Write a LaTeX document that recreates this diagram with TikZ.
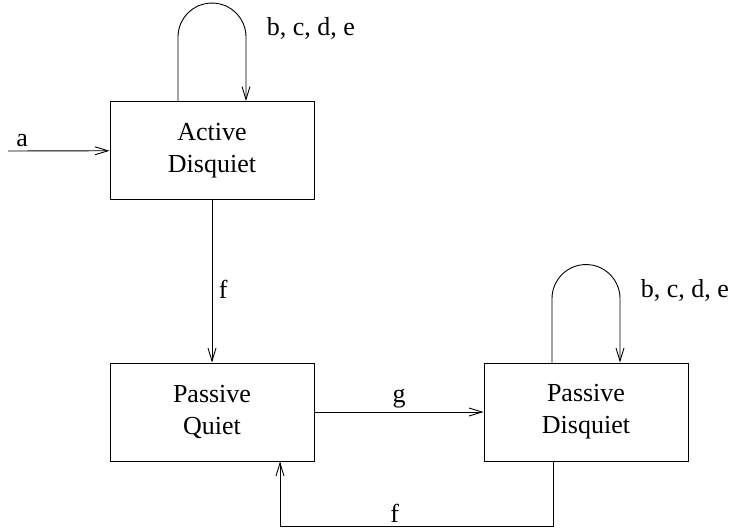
\documentclass[tikz,border=0pt]{standalone}
\usepackage{fontspec}
\setmainfont{Liberation Serif}
\usepackage{tikz}
\usetikzlibrary{arrows.meta}

\begin{document}
\begin{tikzpicture}[x=1pt,y=1pt,
  font=\fontsize{26}{32}\selectfont,
  line width=0.9pt,
  state/.style={draw,rectangle,minimum width=204pt,minimum height=98pt,inner sep=0pt,align=center},
  arr/.style={-{Straight Barb[length=13pt,width=8pt,line width=0.9pt]}},
  looplabel/.style={anchor=base west,xshift=17pt,yshift=1.5pt}]

\useasboundingbox (0,0) rectangle (730,-529);

\node[state](ad) at(212,-150.5){Active\\Disquiet};
\node[state](pq) at(212,-412){Passive\\Quiet};
\node[state](pd) at(586,-412){Passive\\Disquiet};
\coordinate(start) at(8,-151);

\draw [arr](start)--(ad) node[pos=0.14,above]{a};
\draw [arr]([xshift=-34pt]ad.north)--++(0,64) arc[start angle=180,end angle=0,radius=34] node[looplabel]{b, c, d, e}--([xshift=34pt]ad.north);
\draw [arr](ad)--(pq) node[pos=0.55,right=3pt]{f};
\draw [arr](pq)--(pd) node[midway,above]{g};
\draw [arr]([xshift=-34pt]pd.north)--++(0,64) arc[start angle=180,end angle=0,radius=34] node[looplabel]{b, c, d, e}--([xshift=34pt]pd.north);
\draw [arr]([xshift=-33pt]pd.south)--++(0,-65) -| ([xshift=68pt]pq.south) node[pos=0.29,above]{f};

\end{tikzpicture}
\end{document}
